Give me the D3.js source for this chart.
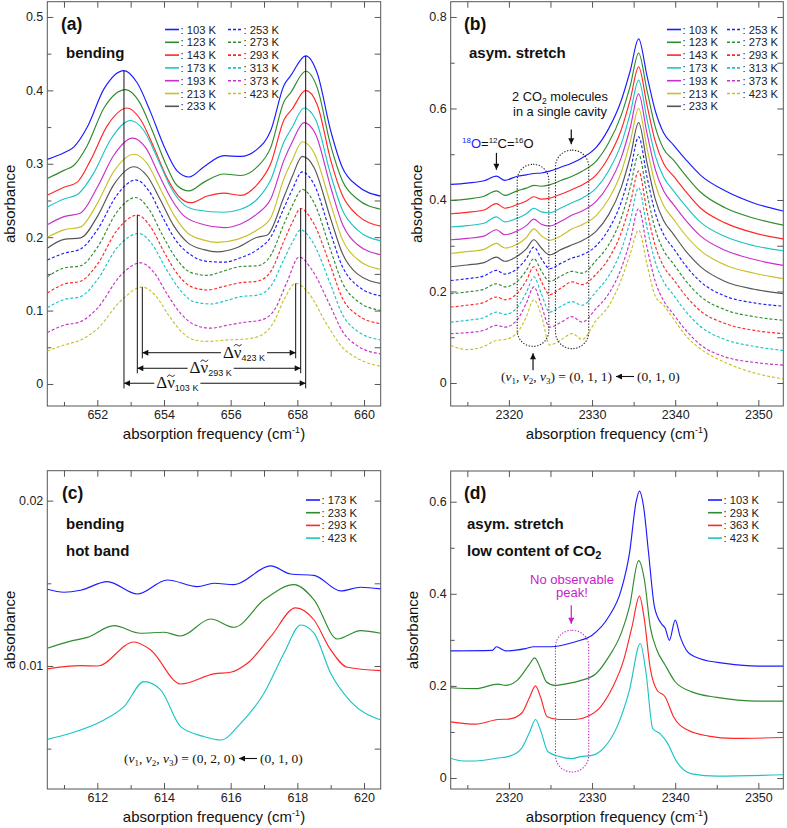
<!DOCTYPE html>
<html>
<head>
<meta charset="utf-8">
<script src="https://cdn.jsdelivr.net/npm/d3@7"></script>
<style>
body { margin: 0; background: #fff; }
svg { font-family: Arial, "Liberation Sans", sans-serif; }
</style>
</head>
<body>
<div id="chart"></div>
<script>
// ---------- data: panel (a) bending ----------
var tempsA = ["103 K","123 K","143 K","173 K","193 K","213 K","233 K","253 K","273 K","293 K","313 K","373 K","423 K"];
var a103 = [[650.5,.306],[651.0,.315],[651.3,.323],[651.7,.350],[652.2,.402],[652.8,.427],[653.2,.41],[653.6,.37],[654.0,.324],[654.4,.290],[654.75,.282],[655.2,.296],[655.8,.311],[656.3,.310],[656.8,.320],[657.2,.345],[657.6,.407],[657.8,.420],[658.25,.447],[658.6,.423],[659.0,.345],[659.35,.295],[659.8,.270],[660.5,.256]];
var a123 = [[650.5,.280],[651.0,.291],[651.3,.298],[651.7,.325],[652.2,.376],[652.85,.401],[653.25,.385],[653.65,.345],[654.05,.300],[654.4,.270],[654.75,.263],[655.2,.275],[655.8,.286],[656.3,.284],[656.8,.296],[657.2,.322],[657.6,.385],[657.8,.397],[658.25,.426],[658.6,.403],[659.0,.325],[659.35,.277],[659.8,.252],[660.5,.238]];
var a143 = [[650.5,.257],[651.0,.268],[651.4,.275],[651.8,.305],[652.3,.352],[652.9,.376],[653.3,.360],[653.7,.322],[654.1,.280],[654.5,.253],[654.8,.247],[655.3,.256],[655.8,.260],[656.3,.257],[656.8,.272],[657.2,.300],[657.6,.360],[657.85,.375],[658.25,.400],[658.6,.380],[659.0,.305],[659.35,.257],[659.8,.230],[660.5,.215]];
var a173 = [[650.5,.241],[651.0,.252],[651.4,.258],[651.9,.288],[652.4,.333],[653.0,.359],[653.4,.345],[653.8,.308],[654.2,.268],[654.6,.244],[655.0,.237],[655.8,.234],[656.3,.238],[656.8,.252],[657.2,.278],[657.6,.330],[657.85,.350],[658.2,.376],[658.55,.360],[659.0,.285],[659.35,.237],[659.8,.210],[660.5,.195]];
var a193 = [[650.5,.217],[651.0,.228],[651.5,.233],[652.0,.268],[652.5,.312],[653.05,.335],[653.45,.322],[653.85,.285],[654.25,.250],[654.6,.229],[655.2,.217],[655.8,.213],[656.3,.218],[656.8,.232],[657.2,.252],[657.6,.305],[657.85,.330],[658.2,.356],[658.55,.340],[659.0,.268],[659.35,.218],[659.8,.190],[660.5,.176]];
var a213 = [[650.5,.200],[651.0,.210],[651.5,.214],[652.0,.246],[652.5,.290],[653.1,.313],[653.5,.300],[653.9,.265],[654.3,.230],[654.7,.206],[655.2,.196],[655.6,.193],[656.2,.197],[656.8,.210],[657.2,.226],[657.6,.280],[657.85,.305],[658.15,.330],[658.5,.315],[659.0,.245],[659.35,.197],[659.8,.170],[660.5,.156]];
var a233 = [[650.5,.185],[651.0,.197],[651.5,.199],[652.0,.228],[652.5,.272],[653.1,.296],[653.5,.283],[653.9,.250],[654.3,.215],[654.7,.193],[655.2,.183],[655.6,.180],[656.2,.186],[656.8,.200],[657.1,.203],[657.6,.255],[657.85,.283],[658.15,.310],[658.5,.295],[659.0,.225],[659.35,.178],[659.8,.150],[660.5,.137]];
var a253 = [[650.5,.169],[651.0,.178],[651.5,.184],[652.0,.210],[652.6,.258],[653.15,.278],[653.55,.263],[653.95,.228],[654.35,.196],[654.8,.176],[655.3,.167],[655.8,.166],[656.3,.172],[656.8,.183],[657.2,.200],[657.6,.240],[657.85,.265],[658.15,.289],[658.5,.272],[659.0,.205],[659.35,.160],[659.8,.134],[660.5,.120]];
var a273 = [[650.5,.146],[651.0,.158],[651.5,.161],[652.0,.186],[652.6,.235],[653.15,.254],[653.55,.238],[653.95,.203],[654.35,.172],[654.8,.152],[655.3,.148],[655.8,.154],[656.3,.160],[656.8,.161],[657.2,.175],[657.6,.218],[657.85,.243],[658.15,.265],[658.5,.247],[659.0,.182],[659.35,.138],[659.8,.113],[660.5,.100]];
var a293 = [[650.5,.124],[651.0,.136],[651.5,.140],[652.0,.163],[652.6,.210],[653.2,.230],[653.6,.214],[654.0,.180],[654.4,.150],[654.8,.133],[655.3,.128],[655.8,.133],[656.3,.138],[656.8,.140],[657.2,.153],[657.6,.195],[657.85,.220],[658.1,.239],[658.45,.222],[659.0,.160],[659.35,.117],[659.8,.094],[660.5,.082]];
var a313 = [[650.5,.104],[651.0,.115],[651.5,.119],[652.0,.142],[652.6,.186],[653.25,.205],[653.65,.190],[654.05,.158],[654.45,.130],[654.9,.112],[655.4,.109],[655.9,.114],[656.3,.119],[656.8,.121],[657.2,.133],[657.6,.170],[657.85,.193],[658.1,.210],[658.45,.194],[659.0,.135],[659.35,.095],[659.8,.072],[660.5,.060]];
var a373 = [[650.5,.070],[651.0,.080],[651.5,.085],[652.0,.103],[652.7,.148],[653.3,.165],[653.7,.152],[654.1,.122],[654.5,.096],[654.9,.081],[655.4,.076],[655.9,.080],[656.4,.084],[656.9,.087],[657.3,.100],[657.7,.140],[658.05,.173],[658.4,.158],[659.0,.105],[659.35,.072],[659.8,.052],[660.5,.041]];
var a423 = [[650.5,.045],[651.0,.053],[651.5,.060],[652.0,.075],[652.7,.113],[653.35,.132],[653.75,.120],[654.15,.093],[654.55,.070],[654.9,.060],[655.3,.058],[655.9,.060],[656.4,.061],[656.9,.066],[657.3,.085],[657.6,.115],[657.95,.137],[658.3,.126],[658.9,.080],[659.35,.050],[659.8,.035],[660.5,.024]];
var seriesA = [a103,a123,a143,a173,a193,a213,a233,a253,a273,a293,a313,a373,a423];

// peak separations marked in (a): [left peak x, left y, right peak x, right y, arrow y, line bottom y, label x]
var deltaTemps = ["103 K","293 K","423 K"];
var deltaPeaks = [[652.8,.427,658.25,.447,0.001,-0.006,654.4],[653.2,.230,658.1,.239,0.0214,0.0146,655.4],[653.35,.132,657.95,.137,0.0426,0.035,656.4]];

// ---------- data: panel (b) asym. stretch ----------
var tempsB = tempsA;
var xB = [2313,2315,2317,2318.5,2319.5,2321,2322.1,2323,2323.9,2324.9,2326.3,2327.6,2328.8,2330.5,2332,2333.5,2334.6,2335.6,2336.6,2337.6,2338.6,2339.8,2341.2,2343,2346,2349.5,2353];
var b103 = [.434,.437,.442,.452,.443,.452,.455,.458,.459,.463,.472,.481,.492,.515,.556,.617,.683,.752,.672,.595,.547,.520,.490,.455,.420,.393,.376];
var b123 = [.399,.402,.408,.420,.410,.420,.426,.432,.430,.433,.443,.452,.463,.485,.525,.585,.650,.721,.640,.560,.512,.487,.455,.418,.383,.360,.345];
var b143 = [.370,.373,.378,.392,.382,.390,.398,.407,.402,.404,.413,.423,.433,.455,.494,.553,.620,.691,.608,.528,.480,.452,.420,.383,.350,.328,.315];
var b173 = [.341,.344,.349,.363,.352,.360,.370,.382,.374,.372,.383,.394,.404,.426,.464,.522,.590,.662,.577,.497,.450,.420,.388,.352,.320,.300,.289];
var b193 = [.313,.316,.321,.335,.324,.332,.344,.358,.347,.343,.354,.367,.376,.397,.434,.492,.559,.632,.546,.467,.420,.390,.357,.322,.290,.270,.257];
var b213 = [.283,.287,.292,.305,.295,.303,.318,.337,.322,.312,.322,.337,.346,.366,.402,.460,.528,.600,.514,.435,.388,.358,.324,.290,.258,.240,.228];
var b233 = [.254,.258,.263,.275,.266,.277,.293,.313,.295,.280,.292,.302,.311,.332,.368,.427,.495,.569,.482,.402,.355,.325,.290,.255,.222,.205,.195];
var b253 = [.224,.228,.234,.246,.238,.250,.272,.297,.272,.250,.262,.273,.280,.300,.336,.395,.463,.538,.451,.372,.325,.294,.258,.222,.190,.175,.168];
var b273 = [.195,.199,.205,.217,.210,.222,.246,.272,.245,.222,.234,.244,.240,.268,.302,.360,.428,.500,.414,.336,.290,.260,.225,.190,.160,.145,.137];
var b293 = [.166,.170,.176,.188,.182,.196,.224,.254,.222,.193,.208,.221,.215,.238,.272,.328,.393,.463,.376,.300,.255,.226,.192,.158,.130,.115,.108];
var b313 = [.133,.137,.143,.155,.150,.165,.198,.232,.195,.155,.168,.178,.170,.200,.234,.290,.355,.427,.340,.265,.222,.192,.158,.124,.095,.080,.071];
var b373 = [.108,.110,.115,.126,.122,.138,.175,.210,.170,.122,.133,.145,.133,.163,.195,.250,.312,.381,.297,.222,.180,.150,.117,.084,.057,.045,.039];
var b423 = [.082,.073,.080,.093,.095,.110,.145,.182,.148,.083,.095,.108,.095,.137,.168,.225,.283,.334,.260,.190,.170,.140,.105,.075,.045,.022,.009];
var seriesB = [b103,b123,b143,b173,b193,b213,b233,b253,b273,b293,b313,b373,b423];

// ---------- data: panel (c) hot band ----------
var tempsC = ["173 K","233 K","293 K","423 K"];
var c173 = [[610.5,.01464],[611,.01446],[611.5,.01458],[612.3,.0151],[613.2,.01435],[614.1,.0152],[615,.0148],[615.5,.0150],[616.1,.01492],[617.2,.01605],[617.8,.01556],[618.5,.01548],[619.3,.01454],[619.9,.01476],[620.5,.01466]];
var c233 = [[610.5,.01107],[611.2,.0115],[611.7,.01173],[612.5,.01244],[613.3,.01198],[614,.01204],[614.5,.01181],[615.4,.01284],[616.1,.01234],[617,.0140],[617.9,.01492],[618.5,.0140],[619.2,.01163],[619.9,.01214],[620.5,.01198]];
var c293 = [[610.5,.00982],[611.5,.01002],[612,.0100],[613.1,.01145],[613.6,.01097],[614.5,.00891],[615.5,.00952],[616,.00962],[616.5,.01016],[617.2,.01177],[617.95,.01351],[618.5,.01278],[619,.01097],[619.5,.00992],[620.5,.00972]];
var c423 = [[610.5,.00556],[611.2,.00593],[612.2,.00673],[612.8,.00754],[613.4,.00905],[613.9,.00855],[614.5,.00633],[615.2,.00573],[615.7,.00552],[616.3,.00653],[617,.00835],[617.6,.01077],[618.1,.01248],[618.5,.01198],[619,.00956],[619.6,.00785],[620.5,.00673]];
var seriesC = [c173,c233,c293,c423];

// ---------- data: panel (d) low content ----------
var tempsD = ["103 K","293 K","363 K","423 K"];
var d103 = [[2313,.276],[2318,.277],[2318.5,.285],[2319,.281],[2319.6,.276],[2322,.281],[2323,.285],[2325,.285],[2328,.296],[2330,.310],[2332,.350],[2333.5,.408],[2334.5,.488],[2335.3,.600],[2335.7,.623],[2336.2,.589],[2336.8,.488],[2337.5,.372],[2338.3,.336],[2338.8,.325],[2339.3,.299],[2340,.343],[2340.6,.307],[2341.5,.274],[2343,.259],[2346,.249],[2350,.243],[2353,.243]];
var d293 = [[2313,.196],[2316,.194],[2318.7,.204],[2319.6,.201],[2321,.212],[2322.4,.245],[2323.1,.261],[2323.8,.238],[2324.5,.209],[2325.5,.201],[2327,.205],[2328.5,.211],[2330.5,.227],[2332,.263],[2333.5,.314],[2334.5,.372],[2335.6,.472],[2336.3,.430],[2337,.328],[2337.8,.278],[2338.8,.245],[2340,.209],[2342,.187],[2345,.175],[2350,.167],[2353,.167]];
var d363 = [[2313,.122],[2316,.117],[2318.7,.127],[2320,.128],[2321.5,.140],[2322.5,.176],[2323.2,.200],[2323.8,.176],[2324.6,.133],[2326,.127],[2328,.127],[2329.5,.134],[2331,.154],[2332.5,.198],[2333.8,.256],[2334.8,.328],[2335.7,.395],[2336.3,.343],[2337,.238],[2337.8,.191],[2338.8,.176],[2339.8,.133],[2341.5,.104],[2344,.091],[2347,.086],[2353,.088]];
var d423 = [[2313,.043],[2314.5,.037],[2316,.037],[2318.5,.043],[2320,.047],[2321.5,.064],[2322.5,.100],[2323.2,.127],[2323.8,.104],[2324.7,.057],[2326,.047],[2327.6,.042],[2328.5,.046],[2330,.049],[2331.5,.067],[2333,.111],[2334.5,.191],[2335.8,.292],[2336.5,.227],[2337.3,.107],[2338.2,.096],[2339,.078],[2340.2,.035],[2342,.009],[2345,.004],[2353,.007]];
var seriesD = [d103,d293,d363,d423];

var palette = ["#1c1cff","#2e8b2e","#ff2727","#1ec4c4","#c830c8","#c8c02a","#555555"];

// ---------- drawing ----------
var svg = d3.select("#chart").append("svg").attr("width", 787).attr("height", 828);
var defs = svg.append("defs");

function addMarker(id, color) {
  defs.append("marker").attr("id", id)
    .attr("viewBox", "0 0 10 10").attr("refX", 10).attr("refY", 5)
    .attr("markerWidth", 8).attr("markerHeight", 6)
    .attr("markerUnits", "userSpaceOnUse").attr("orient", "auto-start-reverse")
    .append("path").attr("d", "M0,0 L10,5 L0,10 z").attr("fill", color);
}
addMarker("arrK", "#111");
addMarker("arrM", "#c81ec8");

function makePanel(p) {
  var x = d3.scaleLinear().domain(p.xDomain).range([p.left, p.left + p.width]);
  var y = d3.scaleLinear().domain(p.yDomain).range([p.top + p.height, p.top]);
  var g = svg.append("g");
  defs.append("clipPath").attr("id", "clip-" + p.id).append("rect")
    .attr("x", p.left).attr("y", p.top).attr("width", p.width).attr("height", p.height);
  var bottom = p.top + p.height, right = p.left + p.width;

  function ax(axis, tx, ty, vals, size, fmt) {
    var a = g.append("g").attr("transform", "translate(" + tx + "," + ty + ")")
      .call(axis.tickValues(vals).tickSize(-size).tickPadding(4).tickFormat(fmt || function() { return ""; }));
    a.select(".domain").remove();
    a.selectAll("line").attr("stroke", "#555");
    a.selectAll("text").attr("font-size", 12.5).attr("fill", "#222").attr("font-family", "Arial, 'Liberation Sans', sans-serif");
  }
  ax(d3.axisBottom(x), 0, bottom, p.xMajor, 6, d3.format("d"));
  ax(d3.axisBottom(x), 0, bottom, p.xMinor, 4, null);
  ax(d3.axisTop(x), 0, p.top, p.xMajor.concat(p.xMinor), 6, null);
  ax(d3.axisLeft(y), p.left, 0, p.yMajor, 6, p.yFmt);
  ax(d3.axisLeft(y), p.left, 0, p.yMinor, 4, null);
  ax(d3.axisRight(y), right, 0, p.yMajor.concat(p.yMinor), 6, null);

  g.append("rect").attr("x", p.left).attr("y", p.top).attr("width", p.width).attr("height", p.height)
    .attr("fill", "none").attr("stroke", "#555").attr("stroke-width", 1);

  // axis titles
  var xt = g.append("text").attr("x", p.left + p.width / 2).attr("y", bottom + 33)
    .attr("text-anchor", "middle").attr("font-size", 15).attr("fill", "#111");
  xt.append("tspan").text("absorption frequency (cm");
  xt.append("tspan").text("-1").attr("font-size", 9).attr("dy", -6);
  xt.append("tspan").text(")").attr("dy", 6);

  g.append("text").attr("transform", "translate(" + (p.left - p.yTitleOff) + "," + (p.top + p.height / 2) + ") rotate(-90)")
    .attr("text-anchor", "middle").attr("font-size", 15).attr("fill", "#111").text("absorbance");

  var plot = g.append("g").attr("clip-path", "url(#clip-" + p.id + ")");
  return { x: x, y: y, g: g, plot: plot };
}

function fmt1(d) { return d === 0 ? "0" : d3.format(".1f")(d); }

var A = makePanel({ id: "a", left: 47.3, top: 1.7, width: 333.4, height: 404.3,
  xDomain: [650.5, 660.5], yDomain: [-0.030, 0.5208],
  xMajor: [652, 654, 656, 658, 660], xMinor: [651, 653, 655, 657, 659],
  yMajor: [0, 0.1, 0.2, 0.3, 0.4, 0.5], yMinor: [0.05, 0.15, 0.25, 0.35, 0.45], yFmt: fmt1, yTitleOff: 32 });
var B = makePanel({ id: "b", left: 450.7, top: 1.7, width: 332.6, height: 404.3,
  xDomain: [2313, 2353], yDomain: [-0.0503, 0.8334],
  xMajor: [2320, 2330, 2340, 2350], xMinor: [2315, 2325, 2335, 2345],
  yMajor: [0, 0.2, 0.4, 0.6, 0.8], yMinor: [0.1, 0.3, 0.5, 0.7], yFmt: fmt1, yTitleOff: 29 });
var C = makePanel({ id: "c", left: 47.3, top: 470.7, width: 333.4, height: 318.3,
  xDomain: [610.5, 620.5], yDomain: [0.002559, 0.02181],
  xMajor: [612, 614, 616, 618, 620], xMinor: [611, 613, 615, 617, 619],
  yMajor: [0.01, 0.02], yMinor: [0.005, 0.015], yFmt: d3.format(".2f"), yTitleOff: 32 });
var D = makePanel({ id: "d", left: 450.7, top: 471, width: 332.6, height: 318,
  xDomain: [2313, 2353], yDomain: [-0.0239, 0.6667],
  xMajor: [2320, 2330, 2340, 2350], xMinor: [2315, 2325, 2335, 2345],
  yMajor: [0, 0.2, 0.4, 0.6], yMinor: [0.1, 0.3, 0.5], yFmt: fmt1, yTitleOff: 33 });

function colorOf(i) { return palette[i < 7 ? i : i - 7]; }
function dashOf(i) { return i < 7 ? null : "3,2"; }

function drawLines(P, series, colorFn, dashFn) {
  var line = d3.line().x(function(d) { return P.x(d[0]); }).y(function(d) { return P.y(d[1]); })
    .curve(d3.curveMonotoneX);
  P.plot.selectAll("path.s").data(series).enter().append("path")
    .attr("class", "s").attr("d", line).attr("fill", "none")
    .attr("stroke", function(d, i) { return colorFn(i); })
    .attr("stroke-width", 1.15)
    .attr("stroke-dasharray", function(d, i) { return dashFn(i); });
}

drawLines(A, seriesA, colorOf, dashOf);
drawLines(B, seriesB.map(function(s) { return s.map(function(v, j) { return [xB[j], v]; }); }), colorOf, dashOf);
drawLines(C, seriesC, function(i) { return palette[i]; }, function() { return null; });
drawLines(D, seriesD, function(i) { return palette[i]; }, function() { return null; });

// legends
function legend(labels, colorFn, dashFn, cols) {
  labels.forEach(function(t, i) {
    var c = cols[i < 7 ? 0 : 1];
    var row = i < 7 ? i : i - 7;
    var yy = c.y0 + row * c.dy;
    svg.append("line").attr("x1", c.x).attr("x2", c.x + 14).attr("y1", yy).attr("y2", yy)
      .attr("stroke", colorFn(i)).attr("stroke-width", 1.6).attr("stroke-dasharray", dashFn(i));
    svg.append("text").attr("x", c.x + 15.5).attr("y", yy + 4).attr("font-size", 11.2).attr("fill", "#222").text(": " + t);
  });
}
legend(tempsA, colorOf, dashOf, [{ x: 165, y0: 29.5, dy: 12.8 }, { x: 228, y0: 29.5, dy: 12.8 }]);
legend(tempsB, colorOf, dashOf, [{ x: 667, y0: 29.5, dy: 12.8 }, { x: 727, y0: 29.5, dy: 12.8 }]);
legend(tempsC, function(i) { return palette[i]; }, function() { return null; }, [{ x: 306, y0: 500, dy: 12.7 }]);
legend(tempsD, function(i) { return palette[i]; }, function() { return null; }, [{ x: 708, y0: 500, dy: 12.7 }]);

// panel labels and titles
function bold(x, y, size, txt) {
  return svg.append("text").attr("x", x).attr("y", y).attr("font-size", size).attr("font-weight", "bold").attr("fill", "#111").text(txt);
}
bold(61, 30, 17.5, "(a)"); bold(464, 30, 17.5, "(b)");
bold(62, 499, 17.5, "(c)"); bold(464, 499, 17.5, "(d)");
bold(66, 58, 15, "bending"); bold(469, 58, 15, "asym. stretch");
bold(66, 529, 15, "bending"); bold(66, 556, 15, "hot band");
bold(467, 529, 15, "asym. stretch");
var lc = bold(467, 556, 15, "low content of CO");
lc.append("tspan").text("2").attr("font-size", 11).attr("dy", 3);

// ---- panel (a): peak separation markers ----
var serifFam = "'Liberation Serif', 'DejaVu Serif', serif";
deltaPeaks.forEach(function(d, i) {
  var g = A.g;
  [[d[0], d[1]], [d[2], d[3]]].forEach(function(pk) {
    g.append("line").attr("x1", A.x(pk[0])).attr("x2", A.x(pk[0]))
      .attr("y1", A.y(pk[1])).attr("y2", A.y(d[5])).attr("stroke", "#111").attr("stroke-width", 1);
  });
  g.append("line").attr("x1", A.x(d[0])).attr("x2", A.x(d[2])).attr("y1", A.y(d[4])).attr("y2", A.y(d[4]))
    .attr("stroke", "#111").attr("stroke-width", 1)
    .attr("marker-start", "url(#arrK)").attr("marker-end", "url(#arrK)");
  var base = A.y(d[4]) + 5;
  var bg = g.append("rect").attr("fill", "#fff");
  var lab = g.append("text").attr("x", A.x(d[6])).attr("y", base).attr("text-anchor", "middle").attr("fill", "#111");
  lab.append("tspan").text("\u0394\u03BD").attr("font-family", serifFam).attr("font-size", 17);
  lab.append("tspan").text(deltaTemps[i]).attr("font-size", 9).attr("dy", 3);
  var bb = lab.node().getBBox();
  bg.attr("x", bb.x - 2).attr("y", A.y(d[4]) - 3).attr("width", bb.width + 4).attr("height", 6);
  // tilde over the nu, drawn as a small wave
  var s = lab.node().getStartPositionOfChar(1), e = lab.node().getEndPositionOfChar(1);
  var cx = (s.x + e.x) / 2, ty = base - 12.5;
  g.append("path")
    .attr("d", "M" + (cx - 3.6) + "," + (ty + 1) + " C" + (cx - 2.4) + "," + (ty - 1.4) + " " + (cx - 1.2) + "," + (ty - 0.8) + " " + cx + "," + ty +
      " S" + (cx + 2.4) + "," + (ty + 1.4) + " " + (cx + 3.6) + "," + (ty - 1))
    .attr("fill", "none").attr("stroke", "#111").attr("stroke-width", 1);
});

// ---- panel (b) annotations ----
function oval(P, x0, x1, y0, y1, color) {
  var w = P.x(x1) - P.x(x0);
  P.g.append("rect").attr("x", P.x(x0)).attr("y", P.y(y1)).attr("width", w).attr("height", P.y(y0) - P.y(y1))
    .attr("rx", w / 2).attr("ry", w / 2).attr("fill", "none").attr("stroke", color)
    .attr("stroke-width", 1.1).attr("stroke-dasharray", "1.3,1.6");
}
function arrow(P, xv, yFrom, yTo, m, color) {
  P.g.append("line").attr("x1", P.x(xv)).attr("x2", P.x(xv)).attr("y1", P.y(yFrom)).attr("y2", P.y(yTo))
    .attr("stroke", color).attr("stroke-width", 1.2).attr("marker-end", "url(#" + m + ")");
}
oval(B, 2321.0, 2324.8, 0.080, 0.478, "#222");
oval(B, 2325.6, 2329.6, 0.075, 0.509, "#222");
arrow(B, 2318.5, 0.503, 0.466, "arrK", "#111");
arrow(B, 2327.5, 0.554, 0.522, "arrK", "#111");
arrow(B, 2322.9, 0.028, 0.065, "arrK", "#111");

var iso = svg.append("text").attr("x", 462).attr("y", 148).attr("font-size", 13).attr("fill", "#111");
iso.append("tspan").text("18").attr("font-size", 8).attr("dy", -5).attr("fill", "#1c1cff");
iso.append("tspan").text("O").attr("dy", 5).attr("fill", "#1c1cff");
iso.append("tspan").text("=");
iso.append("tspan").text("12").attr("font-size", 8).attr("dy", -5);
iso.append("tspan").text("C=").attr("dy", 5);
iso.append("tspan").text("16").attr("font-size", 8).attr("dy", -5);
iso.append("tspan").text("O").attr("dy", 5);

var mol = svg.append("text").attr("x", 560).attr("y", 101).attr("text-anchor", "middle").attr("font-size", 12.8).attr("fill", "#111");
mol.append("tspan").text("2 CO");
mol.append("tspan").text("2").attr("font-size", 8.5).attr("dy", 2.5);
mol.append("tspan").text(" molecules").attr("dy", -2.5);
svg.append("text").attr("x", 560).attr("y", 116).attr("text-anchor", "middle").attr("font-size", 12.8).attr("fill", "#111").text("in a single cavity");

function transition(xEnd, yBase, upper) {
  var t = svg.append("text").attr("x", xEnd).attr("y", yBase).attr("text-anchor", "end")
    .attr("font-family", serifFam).attr("font-size", 13.5).attr("fill", "#111");
  t.append("tspan").text("(");
  [1, 2, 3].forEach(function(k, j) {
    t.append("tspan").text("\u03BD").attr("font-style", "italic");
    t.append("tspan").text(k).attr("font-size", 9).attr("dy", 3);
    t.append("tspan").text(j < 2 ? ", " : ")").attr("dy", -3);
  });
  t.append("tspan").text(" = " + upper);
  svg.append("line").attr("x1", xEnd + 22).attr("x2", xEnd + 4).attr("y1", yBase - 4.5).attr("y2", yBase - 4.5)
    .attr("stroke", "#111").attr("stroke-width", 1.1).attr("marker-end", "url(#arrK)");
  svg.append("text").attr("x", xEnd + 25).attr("y", yBase).attr("font-family", serifFam)
    .attr("font-size", 13.5).attr("fill", "#111").text("(0, 1, 0)");
}
transition(612, 381, "(0, 1, 1)");
transition(235, 763, "(0, 2, 0)");

// ---- panel (d) annotations ----
oval(D, 2325.6, 2329.6, 0.013, 0.321, "#c81ec8");
arrow(D, 2327.5, 0.375, 0.335, "arrM", "#c81ec8");
svg.append("text").attr("x", 572).attr("y", 583.5).attr("text-anchor", "middle").attr("font-size", 13).attr("fill", "#c81ec8").text("No observable");
svg.append("text").attr("x", 572).attr("y", 597).attr("text-anchor", "middle").attr("font-size", 13).attr("fill", "#c81ec8").text("peak!");
</script>
</body>
</html>
